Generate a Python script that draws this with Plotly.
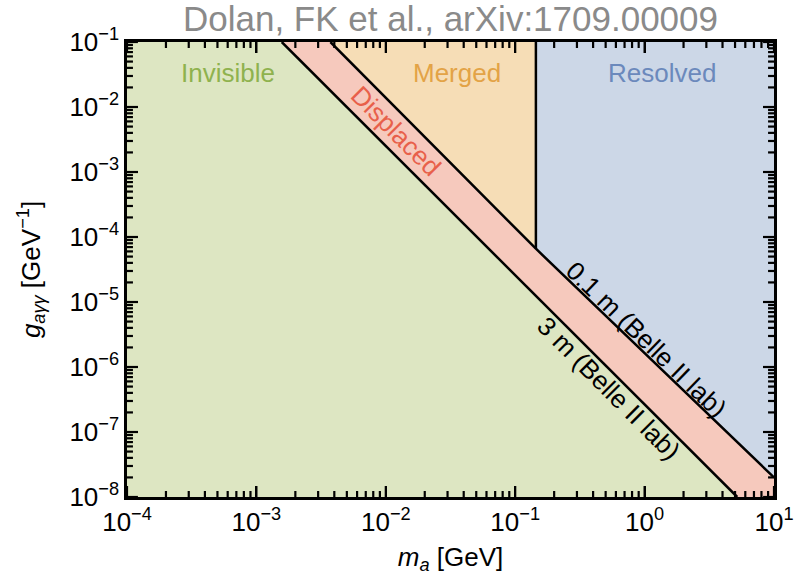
import plotly.graph_objects as go

# Axis extents (GeV, GeV^-1)
x_min, x_max = 1e-4, 10.0
y_min, y_max = 1e-8, 1e-1

# Decay-length boundaries
line_01m_x = [0.003733, 0.1445, 10.0]
line_01m_y = [0.1, 6.6e-5, 2.0e-8]
line_3m_x = [0.00157, 5.2]
line_3m_y = [0.1, 1e-8]
# Merged / resolved boundary
split_x = 0.1445

region_names = ["Invisible", "Displaced", "Merged", "Resolved"]
region_fill = ["#dde6c2", "#f6c9bd", "#f6ddb6", "#ccd7e7"]
region_text = ["#8fb24e", "#e8604a", "#e3a346", "#6b89bc"]

x_tick_exp = [-4, -3, -2, -1, 0, 1]
y_tick_exp = [-8, -7, -6, -5, -4, -3, -2, -1]

split_y = line_01m_y[1]

polys = {
    "Invisible": ([x_min, line_3m_x[0], line_3m_x[1], x_min],
                  [y_max, y_max, y_min, y_min]),
    "Displaced": ([line_3m_x[0], line_01m_x[0], line_01m_x[1], line_01m_x[2], x_max, line_3m_x[1]],
                  [y_max, y_max, line_01m_y[1], line_01m_y[2], y_min, y_min]),
    "Merged": ([line_01m_x[0], split_x, split_x],
               [y_max, y_max, split_y]),
    "Resolved": ([split_x, x_max, x_max, split_x],
                 [y_max, y_max, line_01m_y[2], split_y]),
}

fig = go.Figure()
for name, col in zip(region_names, region_fill):
    xs, ys = polys[name]
    fig.add_trace(go.Scatter(x=xs + [xs[0]], y=ys + [ys[0]], fill="toself",
                             fillcolor=col, mode="lines", line=dict(width=0),
                             hoverinfo="skip", showlegend=False))

line_style = dict(color="black", width=2.5)
fig.add_trace(go.Scatter(x=line_01m_x, y=line_01m_y, mode="lines", line=line_style, showlegend=False))
fig.add_trace(go.Scatter(x=line_3m_x, y=line_3m_y, mode="lines", line=line_style, showlegend=False))
fig.add_trace(go.Scatter(x=[split_x, split_x], y=[y_max, split_y], mode="lines", line=line_style, showlegend=False))

# ---- inward-pointing frame ticks on all four sides (drawn above the fills) ----
W, H = 806, 579
ML, MR, MT, MB = 127, 27, 42, 81
px_per_dec_x = (W - ML - MR) / (x_tick_exp[-1] - x_tick_exp[0])
px_per_dec_y = (H - MT - MB) / (y_tick_exp[-1] - y_tick_exp[0])
major_len, minor_len = 11, 6

xt = [(10.0 ** n, major_len) for n in x_tick_exp] + \
     [(k * 10.0 ** n, minor_len) for n in x_tick_exp[:-1] for k in range(2, 10)]
yt = [(10.0 ** n, major_len) for n in y_tick_exp] + \
     [(k * 10.0 ** n, minor_len) for n in y_tick_exp[:-1] for k in range(2, 10)]

tx, ty = [], []
for v, L in xt:
    dy = 10 ** (L / px_per_dec_y)
    tx += [v, v, None, v, v, None]
    ty += [y_min, y_min * dy, None, y_max, y_max / dy, None]
for v, L in yt:
    dx = 10 ** (L / px_per_dec_x)
    tx += [x_min, x_min * dx, None, x_max, x_max / dx, None]
    ty += [v, v, None, v, v, None]
fig.add_trace(go.Scatter(x=tx, y=ty, mode="lines", connectgaps=False,
                         line=dict(color="#000000", width=2.2),
                         hoverinfo="skip", showlegend=False))

font_family = "Liberation Sans, Arial, sans-serif"

labels = [
    ("Invisible", -3.218, -1.476, 0, region_text[0]),
    ("Merged", -1.446, -1.476, 0, region_text[2]),
    ("Resolved", 0.133, -1.476, 0, region_text[3]),
    ("Displaced", -1.922, -2.367, 45, region_text[1]),
    ("0.1 m (Belle II lab)", 0.018, -5.578, 44, "black"),
    ("3 m (Belle II lab)", -0.281, -6.33, 45, "black"),
]
for txt, lx, ly, ang, c in labels:
    fig.add_annotation(x=lx, y=ly, xref="x", yref="y", text=txt, showarrow=False,
                       textangle=ang, font=dict(size=26, color=c, family=font_family))

tickfont = dict(size=26, color="black", family=font_family)

fig.update_xaxes(type="log", range=[-4, 1], tickmode="array",
                 tickvals=[10.0 ** e for e in x_tick_exp],
                 ticktext=["10<sup>%s</sup>" % str(e).replace("-", "−") for e in x_tick_exp],
                 ticks="inside", ticklen=11, tickwidth=2, tickcolor="black",
                 mirror="allticks", showline=True, linecolor="black", linewidth=2.5,
                 showgrid=False, zeroline=False, tickfont=tickfont,
                 title=dict(text="<i>m</i><sub><i>a</i></sub> [GeV]", standoff=12,
                            font=dict(size=26, color="black", family=font_family)))
fig.update_yaxes(type="log", range=[-8, -1], tickmode="array",
                 tickvals=[10.0 ** e for e in y_tick_exp],
                 ticktext=["10<sup>%s</sup>" % str(e).replace("-", "−") for e in y_tick_exp],
                 ticks="inside", ticklen=11, tickwidth=2, tickcolor="black",
                 mirror="allticks", showline=True, linecolor="black", linewidth=2.5,
                 showgrid=False, zeroline=False, tickfont=tickfont,
                 title=dict(text="<i>g</i><sub><i>aγγ</i></sub> [GeV<sup>−1</sup>]", standoff=22,
                            font=dict(size=26, color="black", family=font_family)))

fig.update_layout(
    width=W, height=H,
    margin=dict(l=ML, r=MR, t=MT, b=MB),
    paper_bgcolor="white", plot_bgcolor="white",
    title=dict(text="Dolan, FK et al., arXiv:1709.00009", x=0.5, xref="paper",
               y=0.968, yref="container", yanchor="middle",
               font=dict(size=35, color="#8a8a8a", family=font_family)),
    showlegend=False,
)

fig.write_html("out.html")
